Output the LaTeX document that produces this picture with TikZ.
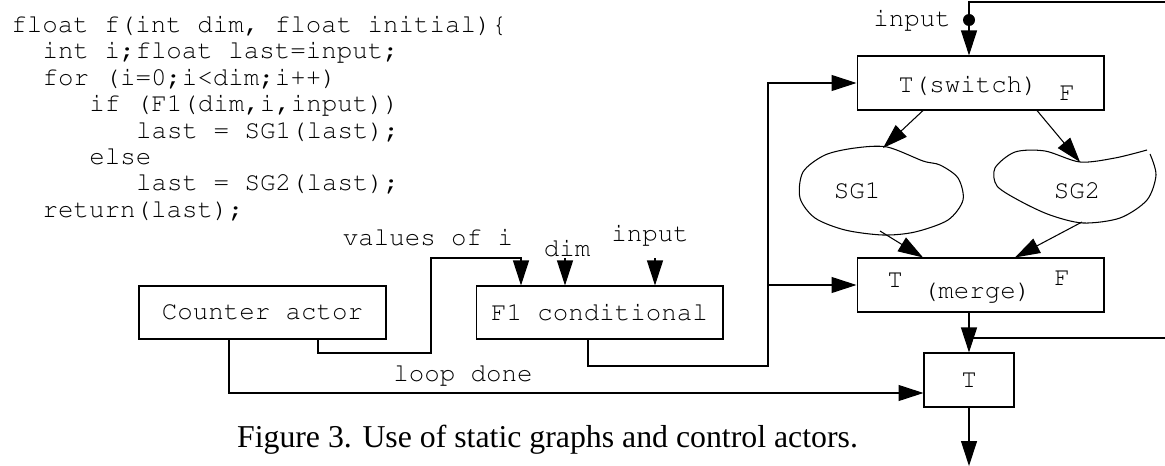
\documentclass[tikz,border=0pt]{standalone}
\usepackage{fontspec}
\setmainfont{Liberation Serif}
\usetikzlibrary{arrows.meta, positioning}

\tikzset{
  tt/.style={font=\fontencoding{T1}\fontfamily{pcr}\fontsize{14.7}{15}\selectfont, inner sep=0pt},
  actor/.style={draw, line width=0.6pt, tt, minimum width=4.94cm, minimum height=1.06cm},
  wire/.style={line width=0.6pt},
  flow/.style={wire, -{Triangle[length=0.5cm,width=0.32cm]}},
}

\begin{document}
\begin{tikzpicture}[x=0.02cm, y=-0.02cm]
    \useasboundingbox (0,0) rectangle (1165,466);

    % the C source
    \foreach \n/\col/\txt in {1/0/{float f(int dim, float initial)\{},
                              2/2/{int i;float last=input;},
                              3/2/{for (i=0;i<dim;i++)},
                              4/5/{if (F1(dim,i,input))},
                              5/8/{last = SG1(last);},
                              6/5/{else},
                              7/8/{last = SG2(last);},
                              8/2/{return(last);}}
      \node[tt, anchor=base west] (code\n) at ({11+15.6*\col}, {32.5+26.4*(\n-1)}) {\txt};

    % actors
    \node[actor] (cnt) at (262.5,312.5) {Counter actor};
    \node[actor] (f1) at (599.5,312.5) {F1 conditional};
    \node[actor, minimum height=1.08cm] (sw) at (980.5,83) {};
    \node[tt] (swT) at (968,86) {T(switch)};
    \node[tt] (swF) at (1067,93) {F};
    \node[actor, minimum height=1.08cm] (mg) at (980.5,285) {};
    \node[tt] (mgT) at (895,280) {T};
    \node[tt] (mgM) at (977,292) {(merge)};
    \node[tt] (mgF) at (1062,278) {F};
    \node[actor, minimum width=1.8cm, minimum height=1.08cm] (tb) at (969,380) {T};

    % static graphs
    \draw[wire] plot[smooth cycle] coordinates {(887,147) (923,161) (940,165) (958,178)
      (963,200) (948,220) (915,232) (883,235) (845,230) (815,218) (800,198) (803,172)
      (825,155) (855,148)};
    \draw[wire] plot[smooth] coordinates {(1150,154) (1156,175) (1147,200) (1120,218)
      (1083,223) (1050,215) (1020,201) (997,186) (995,168) (1015,152) (1045,151)
      (1080,162) (1115,158) (1147,150)};
    \node[tt] (sgA) at (857,190) {SG1};
    \node[tt] (sgB) at (1077,190) {SG2};
    \coordinate (sgAin) at (883,148);
    \coordinate (sgBin) at (1080,162);
    \coordinate (sgAout) at (880,231);
    \coordinate (sgBout) at (1082,222);

    % input from outside
    \coordinate (inR) at (1165,2);
    \node[circle, fill, inner sep=0pt, minimum size=0.24cm] (indot) at (969,20) {};
    \node[tt] (inLbl) at (912,20) {input};
    \draw[wire] (inR) -| (indot);
    \draw[flow] (indot) -- (indot |- sw.north);

    \draw[flow] ([xshift=-1.15cm]sw.south) -- (sgAin);
    \draw[flow] ([xshift=1.13cm]sw.south) -- (sgBin);
    \draw[flow] (sgAout) -- ([xshift=-1.15cm]mg.north);
    \draw[flow] (sgBout) -- ([xshift=0.69cm]mg.north);

    % control from F1
    \coordinate (fb) at (768,366);
    \draw[flow] ([xshift=-0.23cm]f1.south) |- (fb) |- (sw.west);
    \draw[flow] (fb |- mg.west) -- (mg.west);

    % values of i
    \coordinate (vA) at (431,353);
    \coordinate (vB) at (521,258);
    \draw[flow] ([xshift=1.11cm]cnt.south) |- (vA) |- (vB) -- (vB |- f1.north);
    \node[tt] (viLbl) at (428,237) {values of i};

    \coordinate (dimIn) at (565,258);
    \draw[flow] (dimIn) -- (dimIn |- f1.north);
    \node[tt] (dimLbl) at (567,248) {dim};
    \coordinate (f1In) at (655,258);
    \draw[flow] (f1In) -- (f1In |- f1.north);
    \node[tt] (f1InLbl) at (650,235) {input};

    % loop done
    \draw[flow] ([xshift=-0.67cm]cnt.south) |- ([yshift=-0.26cm]tb.west);
    \node[tt] (ldLbl) at (463,375) {loop done};

    % merge -> T -> out
    \draw[flow] (tb.north |- mg.south) -- (tb.north);
    \coordinate (lpR) at (1165,338);
    \draw[wire] (lpR) -- (tb.north |- lpR);
    \coordinate (out) at (969,466);
    \draw[flow] (tb.south) -- (out);

    \node[font=\fontsize{18.1}{20}\selectfont, inner sep=0pt, anchor=base] (cap) at (547.5,447)
      {Figure 3. Use of static graphs and control actors.};
\end{tikzpicture}
\end{document}
